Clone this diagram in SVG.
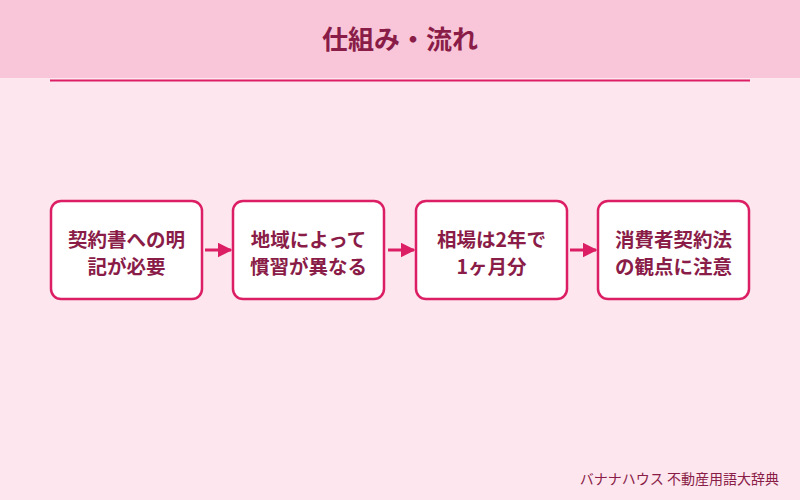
<svg xmlns="http://www.w3.org/2000/svg" width="800" height="500" viewBox="0 0 800 500">
<defs>
<style>
.box{fill:#ffffff;stroke:#dc1f64;stroke-width:2.5}
.t{font-family:"Noto Sans CJK JP","Noto Sans",sans-serif;font-weight:bold;font-size:19.5px;fill:#8a1c48;text-anchor:middle}
.c{stroke:#dc1f64;stroke-width:3;fill:none}
</style>
<marker id="ah" viewBox="0 0 10 10" refX="9" refY="5" markerWidth="5" markerHeight="5" orient="auto" markerUnits="strokeWidth">
<path d="M0,0 L10,5 L0,10 z" fill="#dc1f64"/>
</marker>
</defs>
<rect width="800" height="500" fill="#fde6ee"/>
<rect width="800" height="78" fill="#f8c6d8"/>
<line x1="50" y1="80.5" x2="750" y2="80.5" stroke="#dc1f64" stroke-width="2"/>
<text x="400" y="49" font-family="'Noto Sans CJK JP',sans-serif" font-weight="bold" font-size="26" fill="#8a1c48" text-anchor="middle">仕組み・流れ</text>
<g id="connectors">
<line class="c" x1="205" y1="250" x2="231" y2="250" marker-end="url(#ah)"/>
<line class="c" x1="388" y1="250" x2="414" y2="250" marker-end="url(#ah)"/>
<line class="c" x1="570" y1="250" x2="596" y2="250" marker-end="url(#ah)"/>
</g>
<g id="n1">
<rect class="box" x="51" y="201" width="151" height="98" rx="10"/>
<text class="t" x="126.5" y="247">契約書への明</text>
<text class="t" x="126.5" y="274">記が必要</text>
</g>
<g id="n2">
<rect class="box" x="233" y="201" width="151" height="98" rx="10"/>
<text class="t" x="308.5" y="247">地域によって</text>
<text class="t" x="308.5" y="274">慣習が異なる</text>
</g>
<g id="n3">
<rect class="box" x="416" y="201" width="151" height="98" rx="10"/>
<text class="t" x="491.5" y="247">相場は2年で</text>
<text class="t" x="491.5" y="274">1ヶ月分</text>
</g>
<g id="n4">
<rect class="box" x="598" y="201" width="151" height="98" rx="10"/>
<text class="t" x="673.5" y="247">消費者契約法</text>
<text class="t" x="673.5" y="274">の観点に注意</text>
</g>
<text x="779" y="484" font-family="'Noto Sans CJK JP',sans-serif" font-size="14" fill="#8a1c48" text-anchor="end">バナナハウス 不動産用語大辞典</text>
</svg>
